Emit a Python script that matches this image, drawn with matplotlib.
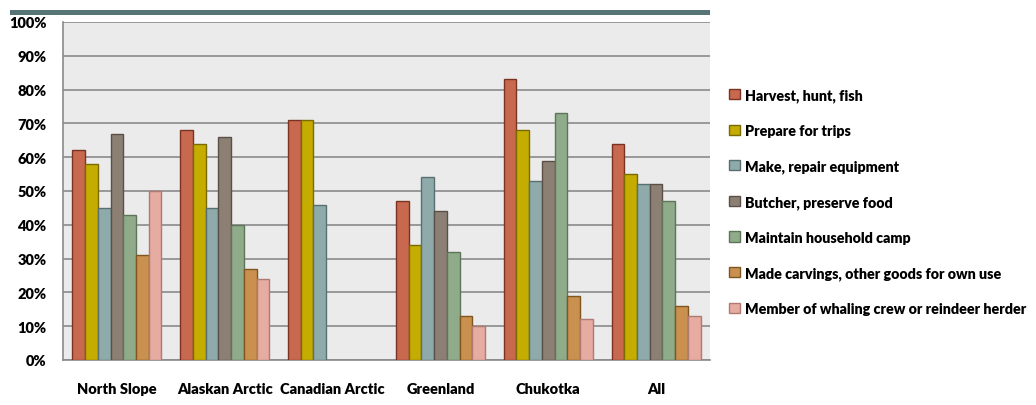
import matplotlib.pyplot as plt
import numpy as np
from matplotlib.patches import Rectangle

regions = ["North Slope", "Alaskan Arctic", "Canadian Arctic", "Greenland", "Chukotka", "All"]
activities = [
    "Harvest, hunt, fish",
    "Prepare for trips",
    "Make, repair equipment",
    "Butcher, preserve food",
    "Maintain household camp",
    "Made carvings, other goods for own use",
    "Member of whaling crew or reindeer herder",
]
# Percent of respondents per region; None = not reported
harvest   = [62, 68, 71, 47, 83, 64]
prepare   = [58, 64, 71, 34, 68, 55]
repair    = [45, 45, 46, 54, 53, 52]
butcher   = [67, 66, None, 44, 59, 52]
household = [43, 40, None, 32, 73, 47]
carvings  = [31, 27, None, 13, 19, 16]
crew      = [50, 24, None, 10, 12, 13]
series = [harvest, prepare, repair, butcher, household, carvings, crew]

fills = ["#c8694f", "#c4ac00", "#8eaaaa", "#8c7f73", "#8fab8a", "#c9904f", "#e6aba1"]
edges = ["#7a3322", "#7a6a00", "#5a7070", "#5a5048", "#5d7558", "#7f5520", "#b07a72"]
yticks = [0, 10, 20, 30, 40, 50, 60, 70, 80, 90, 100]

plt.rcParams['font.family'] = ['Lato', 'DejaVu Sans']
fig = plt.figure(figsize=(10.36, 4.06), dpi=100)
ax = fig.add_axes([63 / 1036, 45 / 406, 647 / 1036, 338 / 406])
ax.set_facecolor("#ebebeb")

x = np.arange(len(regions))
w = 0.118
for i, (vals, fc, ec, name) in enumerate(zip(series, fills, edges, activities)):
    v = np.array([np.nan if a is None else a for a in vals], dtype=float)
    ax.bar(x + (i - 3) * w, v, width=w, color=fc, edgecolor=ec, linewidth=1.0,
           label=name, zorder=3)

ax.set_xlim(-0.5, len(regions) - 0.5)
ax.set_ylim(0, 100)
ax.set_yticks(yticks)
ax.set_yticklabels([f"{t}%" for t in yticks], fontsize=10.5, fontweight="heavy")
ax.set_xticks(x)
ax.set_xticklabels(regions, fontsize=10.5, fontweight="heavy")
ax.tick_params(axis="both", length=0)
ax.tick_params(axis="y", pad=12)
ax.tick_params(axis="x", pad=16)
ax.grid(axis="y", color="#8a8a8a", linewidth=1.2, zorder=1)
for s in ["top", "right"]:
    ax.spines[s].set_visible(False)
for s in ["left", "bottom"]:
    ax.spines[s].set_color("#8a8a8a")
    ax.spines[s].set_linewidth(1.2)

# header band across the top
fig.add_artist(Rectangle((10 / 1036, 1 - 16 / 406), 700 / 1036, 5 / 406,
                         transform=fig.transFigure, facecolor="#587575",
                         edgecolor="none"))

handles, labels = ax.get_legend_handles_labels()
leg = fig.legend(handles, labels, loc="upper left",
                 bbox_to_anchor=(716 / 1036, 1 - 76 / 406),
                 frameon=False, labelspacing=1.55,
                 handlelength=0.75, handleheight=0.75, handletextpad=0.35,
                 prop={"weight": "heavy", "size": 10.3})

fig.savefig("out.png", dpi=100)
